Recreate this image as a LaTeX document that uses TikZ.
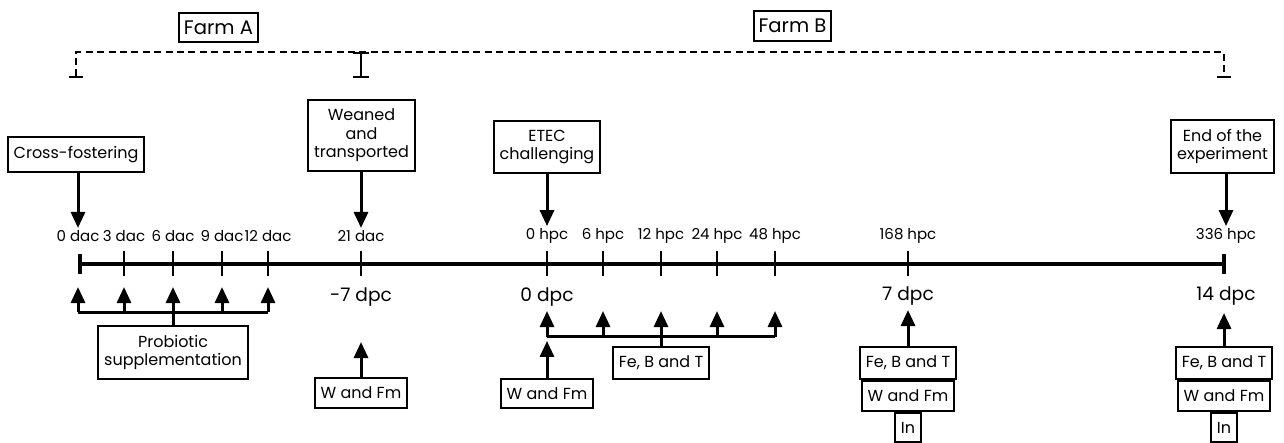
\documentclass[tikz,border=0pt]{standalone}
\usepackage{fontspec}
\setmainfont{Poppins}
\usetikzlibrary{arrows.meta,positioning,calc}

\begin{document}
\begin{tikzpicture}[x=0.5pt,y=-0.5pt,
    box/.style={draw,line width=1pt,align=center,inner xsep=3pt,inner ysep=4.5pt,font=\fontsize{8}{9.3}\selectfont},
    farmbox/.style={box,inner xsep=2.5pt,inner ysep=4pt,font=\fontsize{9.8}{12}\selectfont},
    tlabel/.style={font=\fontsize{7.5}{9}\selectfont,inner sep=1pt},
    dlabel/.style={font=\fontsize{9.3}{11}\selectfont,inner sep=1pt},
    pointer/.style={line width=1.5pt,-{Triangle[width=7pt,length=8pt]}},
    bracket/.style={line width=1.5pt},
    tick/.style={line width=1pt},
    farmline/.style={line width=1pt,dash pattern=on 3.5pt off 2.2pt}]

    \useasboundingbox (0,0) rectangle (1284,443);

    \node[farmbox] (farmA) at (218.5,27.5) {Farm A};
    \node[farmbox] (farmB) at (792.5,26) {Farm B};

    \coordinate (fa) at (76,78);
    \coordinate (fatop) at (76,52);
    \coordinate (fbtop) at (1224,52);
    \coordinate (fb) at (1224,78);
    \coordinate (fmid) at (361,52);
    \coordinate (fmidb) at (361,78);
    \draw[farmline,{Bar[width=7pt]}-{Bar[width=7pt]}] (fa) -- (fatop) -- (fbtop) -- (fb);
    \draw[line width=1pt,{Bar[width=8pt]}-{Bar[width=8pt]}] (fmid) -- (fmidb);

    \node[box,anchor=south] (cross) at (76,173) {Cross-fostering};
    \node[box,anchor=south] (weaned) at (361.5,172) {Weaned\\and\\transported};
    \node[box,anchor=south] (etec) at (547,174) {ETEC\\challenging};
    \node[box,anchor=south] (endexp) at (1222.5,174) {End of the\\experiment};

    \foreach \x/\n/\l in {78/0/0 dac,124/1/3 dac,173/2/6 dac,222/3/9 dac,268/4/12 dac,361/5/21 dac,
        547/6/0 hpc,603/7/6 hpc,661/8/12 hpc,717/9/24 hpc,775/10/48 hpc,908/11/168 hpc,1226/12/336 hpc}{
        \coordinate (t\n) at (\x,264);
        \node[tlabel] (l\n) at (\x,236) {\l};
    }
    \draw[line width=2pt,{Bar[width=10pt]}-{Bar[width=10pt]}] (t0) -- (t12);
    \foreach \n in {1,...,11}
        \draw[tick] (t\n) ++(0,-13) -- ++(0,25);

    \draw[pointer] (cross.south -| l0) -- (l0.north);
    \draw[pointer] (weaned.south -| l5) -- (l5.north);
    \draw[pointer] (etec.south -| l6) -- (l6.north);
    \draw[pointer] (endexp.south -| l12) -- (l12.north);

    \node[dlabel] (d5) at (361,297) {-7 dpc};
    \node[dlabel] (d6) at (547,297) {0 dpc};
    \node[dlabel] (d11) at (908,296) {7 dpc};
    \node[dlabel] (d12) at (1226,296) {14 dpc};

    % dac
    \node[box] (probio) at (173,352.5) {Probiotic\\supplementation};
    \draw[bracket] (probio.north) -- ++(0,-13) coordinate (pbar);
    \draw[bracket] (pbar -| t0) -- (pbar -| t4);
    \foreach \n in {0,...,4}{
        \coordinate (u\n) at ($(t\n)+(0,23)$);
        \draw[pointer] (pbar -| t\n) -- (u\n);
    }

    % -7 dpc
    \node[box] (wfa) at (361,393) {W and Fm};
    \coordinate (u5) at (361,342);
    \draw[pointer] (wfa.north) -- (u5);

    % 0 dpc
    \node[box] (febt) at (661,363) {Fe, B and T};
    \draw[bracket] (febt.north) -- ++(0,-9) coordinate (hbar);
    \draw[bracket] (hbar -| t6) -- (hbar -| t10);
    \foreach \n in {6,...,10}{
        \coordinate (u\n) at ($(t\n)+(0,47)$);
        \draw[pointer] (hbar -| t\n) -- (u\n);
    }
    \node[box] (wfb) at (547,393.5) {W and Fm};
    \draw[pointer,shorten >=2pt] (wfb.north) -- (hbar -| wfb);

    % 7 dpc
    \node[box] (febtc) at (908,363) {Fe, B and T};
    \node[box,below=0pt of febtc] (wfc) {W and Fm};
    \node[box,below=0pt of wfc] (inc) {In};
    \coordinate (u11) at (908,310);
    \draw[pointer] (febtc.north) -- (u11);

    % 14 dpc
    \node[box] (febtd) at (1224,363) {Fe, B and T};
    \node[box,below=0pt of febtd] (wfd) {W and Fm};
    \node[box,below=0pt of wfd] (ind) {In};
    \coordinate (u12) at (1224,313);
    \draw[pointer] (febtd.north) -- (u12);
\end{tikzpicture}
\end{document}
